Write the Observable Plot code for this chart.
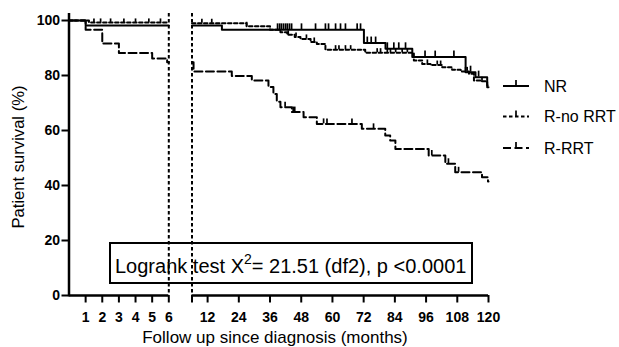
<!DOCTYPE html>
<html>
<head>
<meta charset="utf-8">
<script src="https://cdn.jsdelivr.net/npm/d3@7"></script>
<script src="https://cdn.jsdelivr.net/npm/@observablehq/plot@0.6"></script>
<style>
  body { margin: 0; background: #fff; }
  #chart { position: relative; width: 619px; height: 347px; font-family: "Liberation Sans", Arial, sans-serif; color: #000; }
  #chart svg { position: absolute; left: 0; top: 0; }
</style>
</head>
<body>
<div id="chart"></div>
<script>
// Groups and their line dash patterns
const groups = ["NR", "R-no RRT", "R-RRT"];
const dashes = [null, "3.5,2.5", "8,3.5"];

// Kaplan–Meier survival steps [month, survival %], first six months
const nrEarly = [[0, 100], [1, 98.2], [6, 98.2]];
const noRrtEarly = [[0, 100], [1.2, 99.3], [6, 99.3]];
const rrtEarly = [[0, 100], [1, 96.6], [2, 91.6], [3, 88.2], [5, 86.2], [5.9, 84.8], [6, 84.8]];

// Survival steps, months 6 to 120
const nrLate = [[6, 98.2], [17.5, 96.6], [72.1, 91.8], [80.4, 89.7], [90.7, 86.7],
  [111.2, 81.2], [115, 79.4], [119.5, 75.7], [120, 75.7]];
const noRrtLate = [[6, 99.0], [27, 97.9], [36, 96.6], [40, 95.7], [42.6, 94.8], [45.5, 94.0],
  [47.7, 93.3], [51.6, 92.2], [54, 91.5], [57.3, 89.4], [72.6, 88.3], [91.3, 85.5],
  [94.5, 84.2], [97.7, 83.8], [102.2, 83.0], [106, 82.1], [109.3, 81.5], [112.5, 80.6],
  [114.4, 78.2], [117, 77.9], [119.5, 76.5], [120, 76.5]];
const rrtLate = [[6, 84.8], [6.6, 81.5], [21.3, 79.8], [29, 78.2], [35.4, 75.8], [37.3, 73.3],
  [38.6, 70.5], [40, 68.5], [44.4, 66.7], [48.9, 64.8], [54, 62.4], [71.3, 60.6],
  [80.3, 58.2], [82.2, 56.4], [84.2, 53.3], [97, 50.9], [103.4, 47.9], [107.2, 44.8],
  [117.5, 43.0], [119.8, 41.5], [120, 41.5]];

// Censored observations (months)
const nrCensEarly = [];
const noRrtCensEarly = [1.5, 1.9, 2.5, 3.3, 4.0, 4.8, 5.5];
const rrtCensEarly = [];
const nrCensLate = [38.9, 39.7, 40.4, 41.2, 42, 42.7, 43.5, 44.3, 48.1, 53.5, 57.3, 58.5,
  61.2, 63.1, 65, 69.5, 70.8, 73.4, 74.9, 76.6, 81.1, 83.6, 85.5, 88.1, 95.6, 99.5,
  106.7, 113.1, 116.2];
const noRrtCensLate = [9.8, 13.6, 27, 43, 46, 50, 53, 61.2, 62.5, 65, 67, 77.2, 78.5, 81.1,
  82.3, 84.3, 86.8, 88.8, 96.5, 100.3, 101.6, 111.2, 111.8, 117.5];
const rrtCensLate = [41.8, 44.9, 45.5, 56.6, 57.9, 67.5, 75.8, 98.2, 104.6, 108.5];

// Axis ticks
const earlyTicks = [1, 2, 3, 4, 5, 6];
const lateTicks = [6, 12, 24, 36, 48, 60, 72, 84, 96, 108, 120];
const yTicks = [0, 20, 40, 60, 80, 100];

const font = '"Liberation Sans", Arial, sans-serif';
const intFormat = d3.format("d");

function stepAt(steps, t) {
  let v = steps[0][1];
  for (const [m, s] of steps) if (m <= t) v = s;
  return v;
}

function seriesMarks(steps, cens, dash, tickLen) {
  const pts = steps.map(([m, s]) => ({m, s}));
  const c = cens.map(m => ({m, s: stepAt(steps, m)}));
  const lineOpts = {x: "m", y: "s", curve: "step-after", stroke: "black", strokeWidth: 2};
  if (dash) lineOpts.strokeDasharray = dash;
  return [
    Plot.line(pts, lineOpts),
    Plot.ruleX(c, {x: "m", y1: "s", y2: "s", insetTop: -tickLen, stroke: "black", strokeWidth: 1.7})
  ];
}

const common = {
  width: 619,
  height: 347,
  marginTop: 20,
  marginBottom: 52,
  style: {background: "transparent", color: "black", fontFamily: font, fontSize: "14px", fontWeight: "bold", overflow: "visible"}
};

const chart = document.getElementById("chart");

// Annotation and legend layer
const over = d3.select(chart).append("svg").attr("width", 619).attr("height", 347)
  .style("font-family", font);

over.append("rect").attr("x", 110).attr("y", 243).attr("width", 362).attr("height", 40)
  .attr("fill", "none").attr("stroke", "black").attr("stroke-width", 2);
const lr = over.append("text").attr("x", 115).attr("y", 272.5).attr("font-size", 20).attr("fill", "black");
lr.append("tspan").text("Logrank test X");
lr.append("tspan").attr("dy", -9).attr("font-size", 14).text("2");
lr.append("tspan").attr("dy", 9).text("= 21.51 (df2), p <0.0001");

over.append("text").attr("transform", "translate(23.5,157) rotate(-90)")
  .attr("text-anchor", "middle").attr("font-size", 16.6).attr("fill", "black")
  .text("Patient survival (%)");
over.append("text").attr("x", 275).attr("y", 343).attr("text-anchor", "middle")
  .attr("font-size", 17).attr("fill", "black")
  .text("Follow up since diagnosis (months)");

const legendY = [86, 116.5, 148];
groups.forEach((g, i) => {
  const y = legendY[i];
  const ln = over.append("line").attr("x1", 503).attr("x2", 529).attr("y1", y).attr("y2", y)
    .attr("stroke", "black").attr("stroke-width", 2);
  if (dashes[i]) ln.attr("stroke-dasharray", dashes[i]);
  over.append("line").attr("x1", 516).attr("x2", 516).attr("y1", y - 6).attr("y2", y)
    .attr("stroke", "black").attr("stroke-width", 1.7);
  over.append("text").attr("x", 544).attr("y", y + 5.5).attr("font-size", 16).attr("fill", "black").text(g);
});

// First six months with the survival axis
const early = Plot.plot({
  ...common,
  marginLeft: 68.5,
  marginRight: 619 - 168.3,
  x: {domain: [0, 6]},
  y: {domain: [0, 100]},
  marks: [
    Plot.axisY({ticks: yTicks, tickSize: 7, tickPadding: 2, strokeWidth: 2, label: null, tickFormat: intFormat}),
    Plot.axisX({ticks: earlyTicks, tickSize: 7.5, tickPadding: 9, strokeWidth: 2, label: null, tickFormat: intFormat}),
    Plot.ruleX([0], {insetTop: -7, insetBottom: -1.2, stroke: "black", strokeWidth: 2.5}),
    Plot.ruleY([0], {stroke: "black", strokeWidth: 2.5}),
    Plot.ruleX([6], {insetTop: -7, stroke: "black", strokeWidth: 2, strokeDasharray: "3.5,2.5"}),
    ...seriesMarks(nrEarly, nrCensEarly, dashes[0], 6),
    ...seriesMarks(noRrtEarly, noRrtCensEarly, dashes[1], 3.5),
    ...seriesMarks(rrtEarly, rrtCensEarly, dashes[2], 6)
  ]
});

// Months 6 to 120
const late = Plot.plot({
  ...common,
  marginLeft: 191.5,
  marginRight: 619 - 488,
  x: {domain: [6, 120]},
  y: {domain: [0, 100], axis: null},
  marks: [
    Plot.axisX({ticks: lateTicks, tickSize: 7.5, tickPadding: 9, strokeWidth: 2, label: null,
      tickFormat: d => d === 6 ? "" : intFormat(d)}),
    Plot.ruleY([0], {stroke: "black", strokeWidth: 2.5}),
    Plot.ruleX([6], {insetTop: -7, stroke: "black", strokeWidth: 2, strokeDasharray: "3.5,2.5"}),
    ...seriesMarks(nrLate, nrCensLate, dashes[0], 6),
    ...seriesMarks(noRrtLate, noRrtCensLate, dashes[1], 4),
    ...seriesMarks(rrtLate, rrtCensLate, dashes[2], 5)
  ]
});

chart.appendChild(early);
chart.appendChild(late);
</script>
</body>
</html>
